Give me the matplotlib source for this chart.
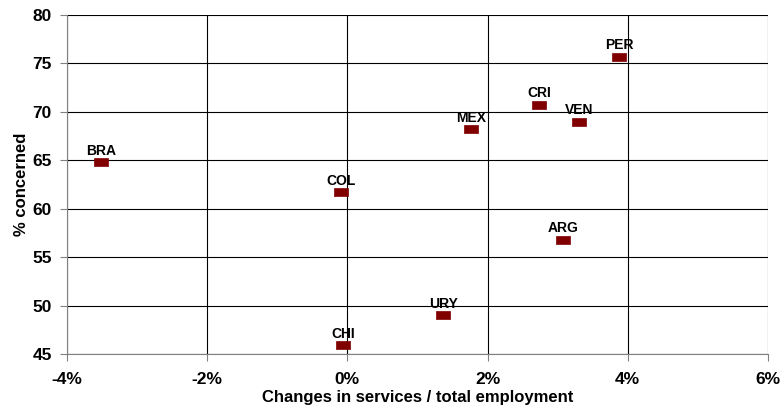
import matplotlib.pyplot as plt
from matplotlib.ticker import FuncFormatter

plt.rcParams["font.family"] = ["Liberation Sans", "DejaVu Sans"]
plt.rcParams["font.weight"] = "bold"

countries = ["BRA", "COL", "CHI", "URY", "MEX", "CRI", "VEN", "ARG", "PER"]
services_change = [-3.51, -0.09, -0.06, 1.37, 1.77, 2.73, 3.31, 3.07, 3.88]
pct_concerned = [64.8, 61.7, 45.9, 49.0, 68.2, 70.7, 69.0, 56.8, 75.7]

fig = plt.figure(figsize=(7.83, 4.08), dpi=100)
ax = fig.add_axes([67 / 783, 1 - 354 / 408, 701 / 783, 339 / 408])

rect = [(-1.6, -1), (1.6, -1), (1.6, 1), (-1.6, 1), (-1.6, -1)]
ax.scatter(services_change, pct_concerned, marker=rect, s=105, color="#800000",
           edgecolors="#800000", linewidths=0.5, zorder=3)

for name, x, y in zip(countries, services_change, pct_concerned):
    ax.annotate(name, (x, y), xytext=(0, 5.5), textcoords="offset points",
                ha="center", va="baseline", fontsize=10, fontweight="bold")

ax.set_xlim(-4, 6)
ax.set_ylim(45, 80)
ax.set_xticks(range(-4, 7, 2))
ax.set_yticks(range(45, 81, 5))
ax.xaxis.set_major_formatter(FuncFormatter(lambda v, _: f"{v:.0f}%"))
ax.grid(True, color="black", linewidth=0.8)
ax.set_axisbelow(True)

for side in ["top", "right"]:
    ax.spines[side].set_visible(False)
ax.spines["left"].set_color("#808080")
ax.spines["bottom"].set_color("#808080")
ax.tick_params(length=5, color="#808080", labelsize=12.5)
ax.tick_params(axis="x", pad=8)
ax.tick_params(axis="y", pad=6)

ax.set_xlabel("Changes in services / total employment", fontsize=12, fontweight="bold", labelpad=2)
ax.set_ylabel("% concerned", fontsize=12, fontweight="bold", labelpad=2)

fig.savefig("out.png", dpi=100)
